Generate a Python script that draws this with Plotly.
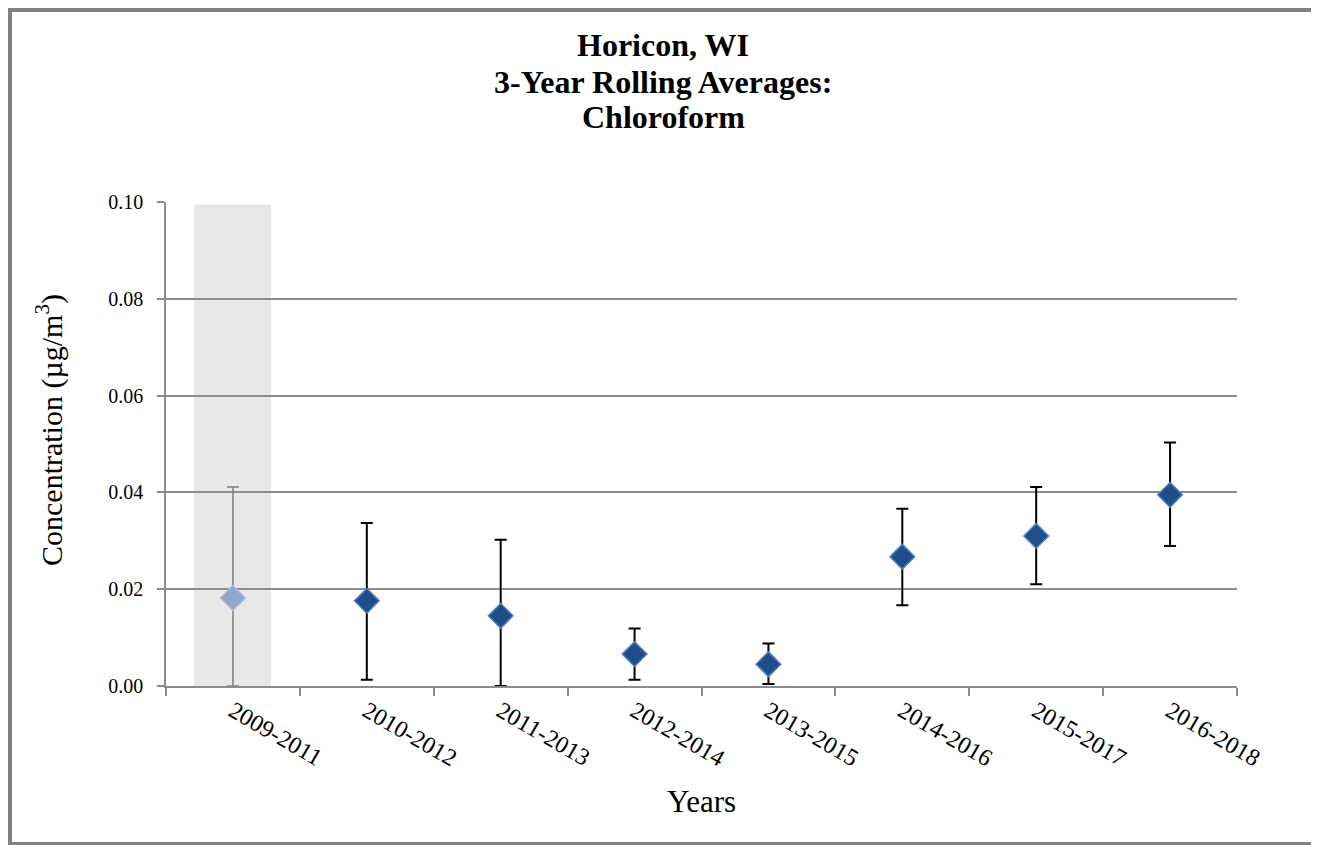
import plotly.graph_objects as go

periods = ["2009-2011", "2010-2012", "2011-2013", "2012-2014",
           "2013-2015", "2014-2016", "2015-2017", "2016-2018"]
means = [0.0182, 0.0176, 0.0145, 0.0066, 0.0045, 0.0267, 0.0310, 0.0395]
upper = [0.0411, 0.0337, 0.0302, 0.0119, 0.0088, 0.0366, 0.0411, 0.0503]
lower = [0.0000, 0.0013, 0.0000, 0.0013, 0.0004, 0.0167, 0.0210, 0.0289]
title_lines = ["Horicon, WI", "3-Year Rolling Averages:", "Chloroform"]
y_title = "Concentration (µg/m<sup>3</sup>)"

err_plus = [u - m for u, m in zip(upper, means)]
err_minus = [m - l for m, l in zip(means, lower)]

SERIF = "Liberation Serif"
GRID = "#8c8c8c"
BORDER = "#808080"

# layout geometry (figure pixels)
L, R, T, B = 158, 90, 194, 167
W, H = 1319, 845
PW, PH = W - L - R, H - T - B


def px_x(fx):
    return (fx - L) / PW


def px_y(fy):
    return (H - B - fy) / PH


fig = go.Figure()

# first (shaded, incomplete) period
fig.add_trace(go.Scatter(
    x=periods[:1], y=means[:1], mode="markers",
    marker=dict(symbol="diamond", size=19, color="#8fa7c7",
                line=dict(color="#a9bdd6", width=1.5)),
    error_y=dict(type="data", array=err_plus[:1], arrayminus=err_minus[:1],
                 color="#7f7f7f", thickness=1.5, width=6),
    showlegend=False,
))

fig.add_trace(go.Scatter(
    x=periods[1:], y=means[1:], mode="markers",
    marker=dict(symbol="diamond", size=19, color="#1f4e8a",
                line=dict(color="#4f7fbf", width=1.5)),
    error_y=dict(type="data", array=err_plus[1:], arrayminus=err_minus[1:],
                 color="#000000", thickness=2, width=6),
    showlegend=False,
))

shapes = [
    dict(type="rect", xref="x", yref="y", x0=-0.29, x1=0.285, y0=0, y1=0.0995,
         fillcolor="#e8e8e8", line=dict(width=0), layer="below"),
    # outer frame: left, top, bottom edges
    dict(type="line", xref="paper", yref="paper",
         x0=px_x(2), x1=px_x(2), y0=px_y(837), y1=px_y(0),
         line=dict(color=BORDER, width=4), layer="above"),
    dict(type="line", xref="paper", yref="paper",
         x0=px_x(0), x1=px_x(W), y0=px_y(2), y1=px_y(2),
         line=dict(color=BORDER, width=4), layer="above"),
    dict(type="line", xref="paper", yref="paper",
         x0=px_x(0), x1=px_x(W), y0=px_y(836), y1=px_y(836),
         line=dict(color=BORDER, width=4), layer="above"),
]

title_centres = [37, 74, 109]
annotations = [
    dict(text="<b>%s</b>" % t, xref="paper", yref="paper",
         x=px_x(655), y=px_y(fy), xanchor="center", yanchor="middle",
         showarrow=False, font=dict(size=32, family=SERIF, color="black"))
    for t, fy in zip(title_lines, title_centres)
]
annotations.append(dict(
    text=y_title, xref="paper", yref="paper", textangle=-90,
    x=px_x(41), y=px_y(422), xanchor="center", yanchor="middle",
    showarrow=False, font=dict(size=30, family=SERIF, color="black")))

fig.update_layout(
    width=W, height=H,
    margin=dict(l=L, r=R, t=T, b=B),
    paper_bgcolor="white", plot_bgcolor="white",
    font=dict(family=SERIF, color="black"),
    shapes=shapes,
    annotations=annotations,
    xaxis=dict(
        type="category", range=[-0.5, 7.5],
        showgrid=False, showline=True, linecolor=GRID, linewidth=1.5,
        ticks="outside", tickson="boundaries", ticklen=8, tickcolor=GRID,
        tickwidth=1.5, tickangle=30,
        tickfont=dict(size=24, family=SERIF),
        title=dict(text="Years", font=dict(size=31, family=SERIF), standoff=20),
    ),
    yaxis=dict(
        range=[0, 0.1], tickvals=[0, 0.02, 0.04, 0.06, 0.08, 0.10],
        tickformat=".2f",
        showgrid=True, gridcolor=GRID, gridwidth=1.5,
        showline=True, linecolor=GRID, linewidth=1.5,
        ticks="outside", ticklen=7, tickcolor=GRID, tickwidth=1.5,
        tickfont=dict(size=20, family=SERIF), ticklabelstandoff=10,
        zeroline=False,
    ),
)

fig.write_html("out.html")
